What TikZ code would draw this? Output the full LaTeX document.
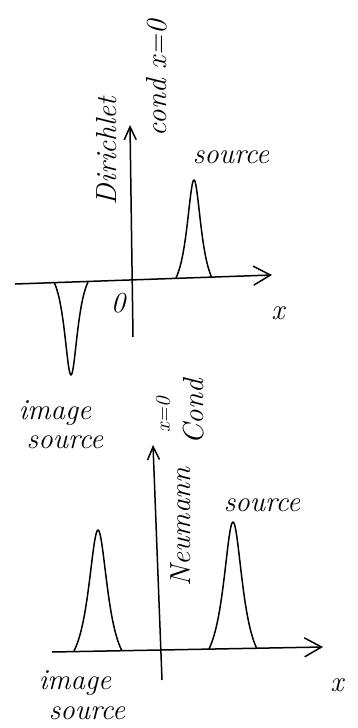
\documentclass[tikz,border=0pt]{standalone}
\usetikzlibrary{arrows.meta}
\begin{document}
\begin{tikzpicture}[x=1pt,y=-1pt,
    hand/.style ={font=\fontsize{29}{30}\selectfont\itshape, inner sep=0pt},
    small/.style={font=\fontsize{21}{24}\selectfont\itshape, inner sep=0pt},
    axis/.style ={line width=1.5pt, -{Straight Barb[length=17pt,width=19pt,line width=1.5pt]}},
    vaxis/.style={line width=1.5pt, -{Straight Barb[length=13pt,width=12pt,line width=1.5pt]}},
    peak/.style ={line width=1.5pt, line join=round},
  ]
  \useasboundingbox (0,0) rectangle (357,728);
  % Dirichlet condition
  \coordinate (ha) at (15,284);
  \coordinate (hb) at (272,275);
  \coordinate (va) at (133,337);
  \coordinate (vb) at (130,125);
  \draw[axis] (ha) -- (hb);
  \draw[vaxis] (va) -- (vb);
  \foreach \xc/\yb/\w/\h in {194/278/9/98, 71/282/8.5/-93}{
    \draw[peak] plot[domain=-2:2, samples=81, smooth] ({\xc+\w*\x}, {\yb-(\h)*(1.25/(1+\x*\x)-0.25)});
  }
  \node[hand] (src1) at (231,157) {source};
  \node[hand] (zero) at (118,303) {0};
  \node[hand] (x1) at (278,313) {x};
  \node[hand, rotate=90] (dir) at (107,151) {Dirichlet};
  \node[hand, rotate=90] (cond1) at (157,78) {cond x=0};
  \node[hand] (img1a) at (55,413) {image};
  \node[hand] (img1b) at (65,442) {source};
  % Neumann condition
  \coordinate (hc) at (52,652);
  \coordinate (hd) at (323,647);
  \coordinate (vc) at (162,680);
  \coordinate (vd) at (153,445);
  \draw[axis] (hc) -- (hd);
  \draw[vaxis] (vc) -- (vd);
  \foreach \xc/\yb/\w/\h in {98/651/12/121, 233/649/12/127}{
    \draw[peak] plot[domain=-2:2, samples=81, smooth] ({\xc+\w*\x}, {\yb-(\h)*(1.25/(1+\x*\x)-0.25)});
  }
  \node[hand] (src2) at (262,505) {source};
  \node[hand] (x2) at (337,685) {x};
  \node[small, rotate=90] (x0) at (163,415) {x=0};
  \node[hand, rotate=90] (neu) at (181,527) {Neumann};
  \node[hand, rotate=90] (cond2) at (194,412) {Cond};
  \node[hand] (img2a) at (75,683) {image};
  \node[hand] (img2b) at (87,713) {source};
\end{tikzpicture}
\end{document}
